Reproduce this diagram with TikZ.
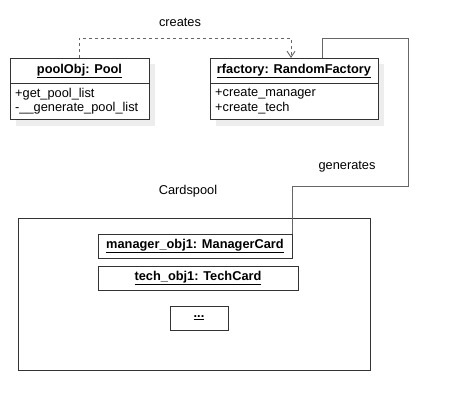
\documentclass[tikz,border=0pt]{standalone}
\usepackage{fontspec}
\setmainfont{Liberation Sans}
\usetikzlibrary{arrows.meta}
\begin{document}
\begin{tikzpicture}[x=1pt,y=-1pt,
  box/.style={draw=black!80,line width=0.9pt,fill=white,anchor=north west,inner sep=0pt},
  conn/.style={draw=black!60,line width=0.9pt},
  lbl/.style={font=\fontsize{12.8}{14}\selectfont,inner sep=0pt},
  hdr/.style={font=\fontsize{12.8}{14}\selectfont\bfseries,inner sep=0pt},
  mem/.style={font=\fontsize{12.8}{14}\selectfont,inner sep=0pt,anchor=west}]
\useasboundingbox (0,0) rectangle (449,410);
% shadows
\fill[black!7] (16,64) rectangle (155,126);
\fill[black!7] (216,64) rectangle (384,126);
\fill[black!7] (104,240) rectangle (298,265);
\fill[black!7] (104,272) rectangle (304,297);
\fill[black!7] (176,312) rectangle (234,337);
% cardspool frame
\node[box,minimum width=352pt,minimum height=152pt] (cp) at (18,218) {};
\node[lbl] (cplbl) at (188,191) {Cardspool};
% pool
\node[box,minimum width=139pt,minimum height=61pt] (pool) at (10,58) {};
\draw[black!80,line width=0.9pt] (10,83) -- (149,83);
\node[hdr] (poolh) at (79.5,71) {\underline{poolObj: Pool}};
\node[mem] (pm1) at (15,94) {+get\_pool\_list};
\node[mem] (pm2) at (15,108) {-\_\_generate\_pool\_list};
% factory
\node[box,minimum width=168pt,minimum height=61pt] (fac) at (210,58) {};
\draw[black!80,line width=0.9pt] (210,83) -- (378,83);
\node[hdr] (fach) at (294,71) {\underline{rfactory: RandomFactory}};
\node[mem] (fm1) at (215,94) {+create\_manager};
\node[mem] (fm2) at (215,108) {+create\_tech};
% cards
\node[box,minimum width=194pt,minimum height=24pt] (mgr) at (98,234) {};
\node[hdr] (mgrt) at (195,246) {\underline{manager\_obj1: ManagerCard}};
\node[box,minimum width=200pt,minimum height=24pt] (tech) at (98,266) {};
\node[hdr] (techt) at (198,278) {\underline{tech\_obj1: TechCard}};
\node[box,minimum width=58pt,minimum height=24pt] (dots) at (170,306) {};
\node[hdr] (dotst) at (199,318) {\underline{...}};
% connectors
\coordinate (c1) at (79,38);
\coordinate (c2) at (291,38);
\draw[conn,dashed,dash pattern=on 3pt off 3pt,-{Straight Barb[length=6pt,width=8pt]}] (79,58) -- (c1) -- (c2) -- (291,58);
\node[lbl] (creates) at (180,22) {creates};
\coordinate (g1) at (322,38);
\coordinate (g2) at (408,38);
\coordinate (g3) at (408,186);
\coordinate (g4) at (292,186);
\draw[conn] (322,58) -- (g1) -- (g2) -- (g3) -- (g4) -- (292,234);
\node[lbl] (gen) at (347,167) {generates};
\end{tikzpicture}
\end{document}
